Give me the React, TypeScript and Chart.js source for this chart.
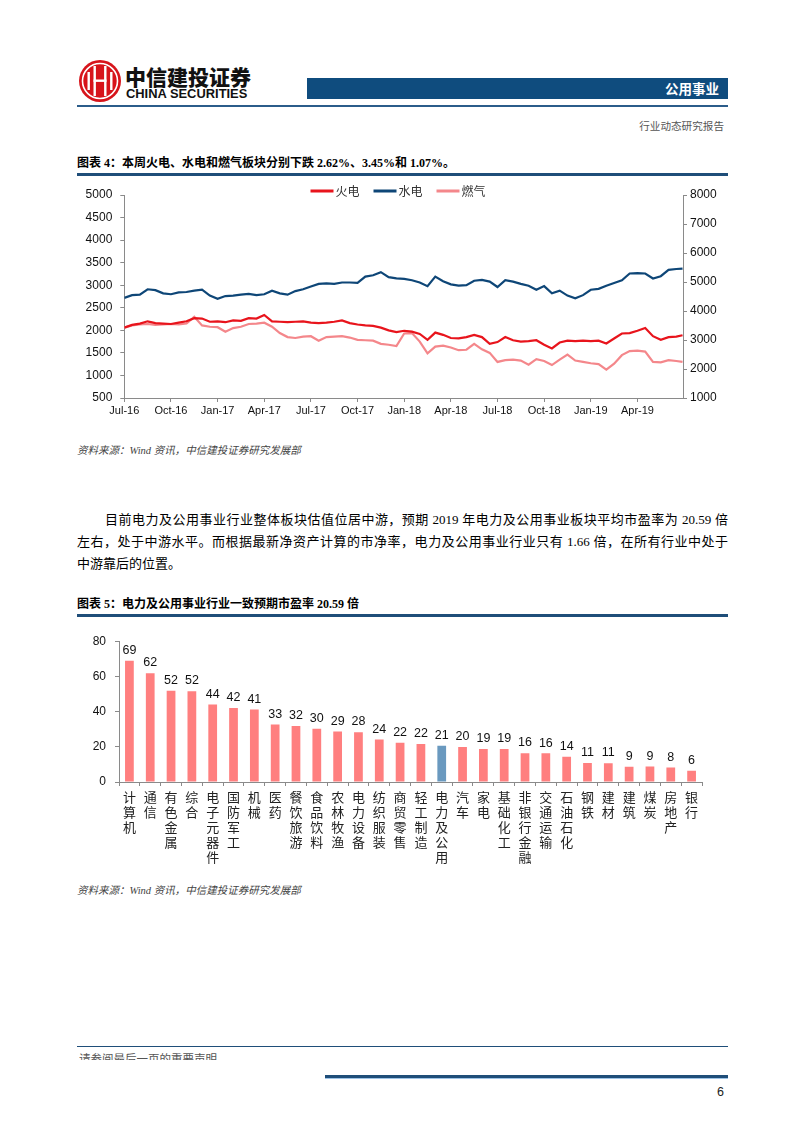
import React, { useEffect, useRef } from 'react';
import { Chart, registerables } from 'chart.js';

Chart.register(...registerables);

// ---------- Chart 4 data (months since Jul-2016) ----------
const months = [
  0, 0.5, 1, 1.5, 2, 2.5, 3, 3.5, 4, 4.5,
  5, 5.5, 6, 6.5, 7, 7.5, 8, 8.5, 9, 9.5,
  10, 10.5, 11, 11.5, 12, 12.5, 13, 13.5, 14, 14.5,
  15, 15.5, 16, 16.5, 17, 17.5, 18, 18.5, 19, 19.5,
  20, 20.5, 21, 21.5, 22, 22.5, 23, 23.5, 24, 24.5,
  25, 25.5, 26, 26.5, 27, 27.5, 28, 28.5, 29, 29.5,
  30, 30.5, 31, 31.5, 32, 32.5, 33, 33.5, 34, 34.5,
  35, 35.5, 35.9,
];
const quarterLabels = [
  'Jul-16', 'Oct-16', 'Jan-17', 'Apr-17', 'Jul-17', 'Oct-17',
  'Jan-18', 'Apr-18', 'Jul-18', 'Oct-18', 'Jan-19', 'Apr-19',
];
const thermal = [
  2060, 2120, 2150, 2200, 2160, 2150, 2140, 2170, 2200, 2270,
  2260, 2190, 2200, 2180, 2220, 2210, 2270, 2260, 2340, 2200,
  2190, 2180, 2190, 2200, 2170, 2160, 2170, 2190, 2220, 2160,
  2130, 2110, 2100, 2060, 2000, 1960, 1990, 1970, 1920, 1790,
  1950, 1900, 1830, 1820, 1850, 1900, 1850, 1700, 1740, 1850,
  1780, 1750, 1760, 1780, 1680, 1600, 1730, 1770, 1760, 1770,
  1760, 1770, 1710, 1820, 1930, 1940, 1990, 2050, 1870, 1790,
  1850, 1860, 1890,
];
const hydro = [
  2720, 2780, 2790, 2910, 2890, 2820, 2800, 2840, 2850, 2880,
  2900, 2770, 2700, 2760, 2770, 2790, 2810, 2780, 2800, 2880,
  2820, 2790, 2870, 2910, 2970, 3030, 3040, 3030, 3060, 3060,
  3050, 3190, 3220, 3290, 3180, 3150, 3140, 3110, 3060, 2980,
  3190, 3090, 3020, 2990, 3000, 3100, 3120, 3080, 2960, 3110,
  3080, 3030, 2990, 2900, 2980, 2820, 2880, 2770, 2710, 2780,
  2900, 2920, 2990, 3050, 3110, 3260, 3270, 3260, 3150, 3200,
  3340, 3360, 3370,
];
const gas = [
  2060, 2110, 2130, 2140, 2120, 2130, 2140, 2130, 2150, 2300,
  2110, 2080, 2070, 1970, 2050, 2080, 2140, 2150, 2170, 2080,
  1940, 1850, 1830, 1860, 1870, 1770, 1850, 1860, 1870, 1840,
  1790, 1780, 1770, 1700, 1680, 1650, 1930, 1940, 1750, 1490,
  1640, 1660, 1620, 1560, 1570, 1700, 1580, 1500, 1300, 1340,
  1350, 1330, 1240, 1360, 1320, 1230, 1350, 1460, 1330, 1300,
  1270, 1250, 1130, 1260, 1450, 1540, 1550, 1530, 1300, 1290,
  1340, 1320, 1300,
];

// ---------- Chart 5 data ----------
const industries = [
  '计算机', '通信', '有色金属', '综合', '电子元器件', '国防军工', '机械', '医药',
  '餐饮旅游', '食品饮料', '农林牧渔', '电力设备', '纺织服装', '商贸零售', '轻工制造',
  '电力及公用', '汽车', '家电', '基础化工', '非银行金融', '交通运输', '石油石化',
  '钢铁', '建材', '建筑', '煤炭', '房地产', '银行',
];
const peValues = [
  68.9, 61.8, 51.9, 51.6, 44.1, 42.0, 41.2, 32.6, 31.8, 30.2, 28.7, 28.3, 24.2, 22.3,
  21.6, 20.59, 19.9, 18.8, 18.7, 16.4, 16.3, 14.3, 10.8, 10.7, 8.7, 8.8, 8.2, 6.4,
];
const highlightIndustry = '电力及公用';

const SANS = '"Liberation Sans", Arial, "Noto Sans CJK SC", sans-serif';
const CJK = '"Noto Sans CJK SC", sans-serif';
const SERIF_MIX = '"Liberation Serif", "Noto Sans CJK SC", serif';
const AXIS = '#8a8a8a';
const NAVY = '#1F4E79';

const RED = '#E8141C';
const BLUE = '#0E4677';
const PINK = '#F4878B';
const BAR_PINK = '#FF7F7F';
const BAR_BLUE = '#6A99BF';

const plainNumber = (v: any) => String(v);

const lineLegend = {
  id: 'lineLegend',
  afterDraw(chart: any) {
    const ctx = chart.ctx;
    const items = chart.data.datasets;
    ctx.save();
    ctx.font = `12px ${CJK}`;
    const lineW = 23;
    const gapText = 2;
    const gapItem = 14;
    const widths = items.map((d: any) => lineW + gapText + ctx.measureText(d.label).width);
    const total = widths.reduce((a: number, b: number) => a + b, 0) + gapItem * (items.length - 1);
    let x = 323 - total / 2;
    const y = 13;
    items.forEach((d: any, i: number) => {
      ctx.fillStyle = d.borderColor;
      ctx.fillRect(x, y - 1.5, lineW, 3);
      ctx.fillStyle = '#333';
      ctx.textBaseline = 'middle';
      ctx.textAlign = 'left';
      ctx.fillText(d.label, x + lineW + gapText, y);
      x += widths[i] + gapItem;
    });
    ctx.restore();
  },
};

const valueLabels = {
  id: 'valueLabels',
  afterDatasetsDraw(chart: any) {
    const ctx = chart.ctx;
    const meta = chart.getDatasetMeta(0);
    const ds = chart.data.datasets[0];
    ctx.save();
    ctx.font = `12.5px ${SANS}`;
    ctx.fillStyle = '#111';
    ctx.textAlign = 'center';
    ctx.textBaseline = 'bottom';
    meta.data.forEach((el: any, i: number) => {
      ctx.fillText(String(Math.round(ds.data[i])), el.x, el.y - 4);
    });
    ctx.restore();
  },
};

function LineChart() {
  const ref = useRef<HTMLCanvasElement>(null);
  useEffect(() => {
    if (!ref.current) return;
    const mk = (label: string, vals: number[], color: string) => ({
      label,
      data: months.map((m, i) => ({ x: m, y: vals[i] })),
      borderColor: color,
      backgroundColor: color,
      borderWidth: 2.2,
      pointRadius: 0,
      tension: 0,
      yAxisID: 'y',
    });
    const chart = new Chart(ref.current, {
      type: 'line',
      data: { datasets: [mk('火电', thermal, RED), mk('水电', hydro, BLUE), mk('燃气', gas, PINK)] as any },
      options: {
        animation: false,
        responsive: false,
        maintainAspectRatio: false,
        layout: { padding: { top: 17, left: 0, right: 0, bottom: 0 } },
        plugins: { legend: { display: false }, tooltip: { enabled: false } },
        scales: {
          x: {
            type: 'linear',
            min: 0,
            max: 35.93,
            ticks: {
              stepSize: 3,
              includeBounds: false,
              autoSkip: false,
              maxRotation: 0,
              padding: 2,
              color: '#111',
              font: { size: 11, family: SANS },
              callback: (v: any) => {
                const n = Number(v);
                const i = Math.round(n / 3);
                return Math.abs(n - i * 3) < 1e-6 ? quarterLabels[i] ?? '' : '';
              },
            },
            grid: { display: true, drawOnChartArea: false, drawTicks: true, tickLength: 4, color: AXIS },
            border: { color: AXIS },
            afterFit: (s: any) => { s.height = 20; },
          },
          y: {
            position: 'left',
            min: 500,
            max: 5000,
            ticks: { stepSize: 500, padding: 8, color: '#111', font: { size: 12, family: SANS }, callback: plainNumber },
            grid: { display: true, drawOnChartArea: false, drawTicks: true, tickLength: 4, color: AXIS },
            border: { color: AXIS },
            afterFit: (s: any) => { s.width = 49.3; },
          },
          y1: {
            position: 'right',
            min: 1000,
            max: 8000,
            ticks: { stepSize: 1000, padding: 3, color: '#111', font: { size: 12, family: SANS }, callback: plainNumber },
            grid: { display: true, drawOnChartArea: false, drawTicks: true, tickLength: 4, color: AXIS },
            border: { color: AXIS },
            afterFit: (s: any) => { s.width = 57; },
          },
        },
      } as any,
      plugins: [lineLegend],
    });
    return () => chart.destroy();
  }, []);
  return (
    <canvas
      ref={ref}
      width={665}
      height={240}
      style={{ position: 'absolute', left: 75, top: 178, width: 665, height: 240 }}
    />
  );
}

function BarChart() {
  const ref = useRef<HTMLCanvasElement>(null);
  useEffect(() => {
    if (!ref.current) return;
    const chart = new Chart(ref.current, {
      type: 'bar',
      data: {
        labels: industries.map((s) => s.split('')),
        datasets: [
          {
            data: peValues,
            backgroundColor: industries.map((n) => (n === highlightIndustry ? BAR_BLUE : BAR_PINK)),
            barPercentage: 0.42,
            categoryPercentage: 1,
          },
        ],
      },
      options: {
        animation: false,
        responsive: false,
        maintainAspectRatio: false,
        layout: { padding: { top: 14.7, right: 13, left: 0, bottom: 0 } },
        plugins: { legend: { display: false }, tooltip: { enabled: false } },
        scales: {
          x: {
            ticks: {
              autoSkip: false,
              maxRotation: 0,
              minRotation: 0,
              padding: 4,
              color: '#222',
              font: { size: 13, family: CJK, lineHeight: 1.15 },
            },
            grid: { display: true, offset: true, drawOnChartArea: false, drawTicks: true, tickLength: 4, color: AXIS },
            border: { color: AXIS },
            afterFit: (s: any) => { s.height = 93; },
          },
          y: {
            min: 0,
            max: 80,
            ticks: { stepSize: 20, padding: 9, color: '#111', font: { size: 12, family: SANS }, callback: plainNumber },
            grid: { display: true, drawOnChartArea: false, drawTicks: true, tickLength: 4, color: AXIS },
            border: { color: AXIS },
            afterFit: (s: any) => { s.width = 44; },
          },
        },
      } as any,
      plugins: [valueLabels],
    });
    return () => chart.destroy();
  }, []);
  return (
    <canvas
      ref={ref}
      width={640}
      height={250}
      style={{ position: 'absolute', left: 75, top: 625, width: 640, height: 250 }}
    />
  );
}

const abs = (s: React.CSSProperties): React.CSSProperties => ({ position: 'absolute', margin: 0, whiteSpace: 'nowrap', ...s });

export default function App() {
  return (
    <div style={{ position: 'absolute', left: 0, top: 0, width: 802, height: 1133, background: '#fff', overflow: 'hidden' }}>
      {/* Header */}
      <svg style={{ position: 'absolute', left: 78, top: 59 }} width={44} height={44} viewBox="0 0 44 44">
        <circle cx={22} cy={22} r={21} fill="#D7141B" />
        <circle cx={22} cy={22} r={17.5} fill="none" stroke="#fff" strokeWidth={1.6} />
        <rect x={9.5} y={13} width={2.4} height={18} fill="#fff" />
        <rect x={32.1} y={13} width={2.4} height={18} fill="#fff" />
        <rect x={15.5} y={7} width={2.4} height={30} fill="#fff" />
        <rect x={26.1} y={7} width={2.4} height={30} fill="#fff" />
        <rect x={15.5} y={20.5} width={13} height={2.4} fill="#fff" />
      </svg>
      <div style={abs({ left: 125, top: 65, fontSize: 21, lineHeight: '23px', fontWeight: 900, fontFamily: CJK, color: '#111' })}>中信建投证券</div>
      <div style={abs({ left: 126, top: 87, fontSize: 12.9, lineHeight: '14px', fontWeight: 700, fontFamily: SANS, color: '#111' })}>CHINA SECURITIES</div>
      <div style={abs({ left: 307, top: 78, width: 421, height: 21, background: '#0F4C7E' })}>
        <div style={abs({ right: 9, top: 0, fontSize: 13.5, lineHeight: '21px', fontWeight: 700, fontFamily: CJK, color: '#fff' })}>公用事业</div>
      </div>
      <div style={abs({ left: 77, top: 105, width: 651, height: 1.5, background: '#2B5C8A' })} />
      <div style={abs({ left: 600, width: 124, textAlign: 'right', top: 119, fontSize: 10.6, lineHeight: '14px', fontFamily: CJK, color: '#555' })}>行业动态研究报告</div>

      {/* Figure 4 */}
      <div style={abs({ left: 77, top: 156, fontSize: 12, lineHeight: '15px', fontWeight: 700, fontFamily: SERIF_MIX, color: '#000' })}>
        图表 4：本周火电、水电和燃气板块分别下跌 2.62%、3.45%和 1.07%。
      </div>
      <div style={abs({ left: 77, top: 173, width: 651, height: 2.5, background: NAVY })} />
      <LineChart />
      <div style={abs({ left: 77, top: 444, fontSize: 10.5, lineHeight: '14px', fontStyle: 'italic', fontFamily: SERIF_MIX, color: '#444' })}>
        资料来源：Wind 资讯，中信建投证券研究发展部
      </div>

      {/* Paragraph */}
      <div style={abs({ left: 105, width: 623, top: 509, fontSize: 13, lineHeight: '22px', fontFamily: SERIF_MIX, color: '#000', textAlign: 'justify', textAlignLast: 'justify' })}>
        目前电力及公用事业行业整体板块估值位居中游，预期 2019 年电力及公用事业板块平均市盈率为 20.59 倍
      </div>
      <div style={abs({ left: 77, width: 651, top: 531, fontSize: 13, lineHeight: '22px', fontFamily: SERIF_MIX, color: '#000', textAlign: 'justify', textAlignLast: 'justify' })}>
        左右，处于中游水平。而根据最新净资产计算的市净率，电力及公用事业行业只有 1.66 倍，在所有行业中处于
      </div>
      <div style={abs({ left: 77, top: 553, fontSize: 13, lineHeight: '22px', fontFamily: SERIF_MIX, color: '#000' })}>
        中游靠后的位置。
      </div>

      {/* Figure 5 */}
      <div style={abs({ left: 77, top: 597, fontSize: 12, lineHeight: '15px', fontWeight: 700, fontFamily: SERIF_MIX, color: '#000' })}>
        图表 5：电力及公用事业行业一致预期市盈率 20.59 倍
      </div>
      <div style={abs({ left: 77, top: 614, width: 651, height: 2.5, background: NAVY })} />
      <BarChart />
      <div style={abs({ left: 77, top: 884, fontSize: 10.5, lineHeight: '14px', fontStyle: 'italic', fontFamily: SERIF_MIX, color: '#444' })}>
        资料来源：Wind 资讯，中信建投证券研究发展部
      </div>

      {/* Footer */}
      <div style={abs({ left: 77, top: 1046, width: 651, height: 1, background: NAVY })} />
      <div style={abs({ left: 79, top: 1051, height: 9, overflow: 'hidden' })}>
        <div style={{ fontSize: 11.5, lineHeight: '14px', fontFamily: CJK, color: '#555', whiteSpace: 'nowrap' }}>请参阅最后一页的重要声明</div>
      </div>
      <div style={abs({ left: 325, top: 1075, width: 403, height: 3, background: NAVY })} />
      <div style={abs({ left: 325, top: 1078, width: 403, height: 1, background: '#9DC3E6' })} />
      <div style={abs({ left: 700, width: 24, textAlign: 'right', top: 1085, fontSize: 12.5, lineHeight: '15px', fontFamily: SANS, color: '#222' })}>6</div>
    </div>
  );
}
